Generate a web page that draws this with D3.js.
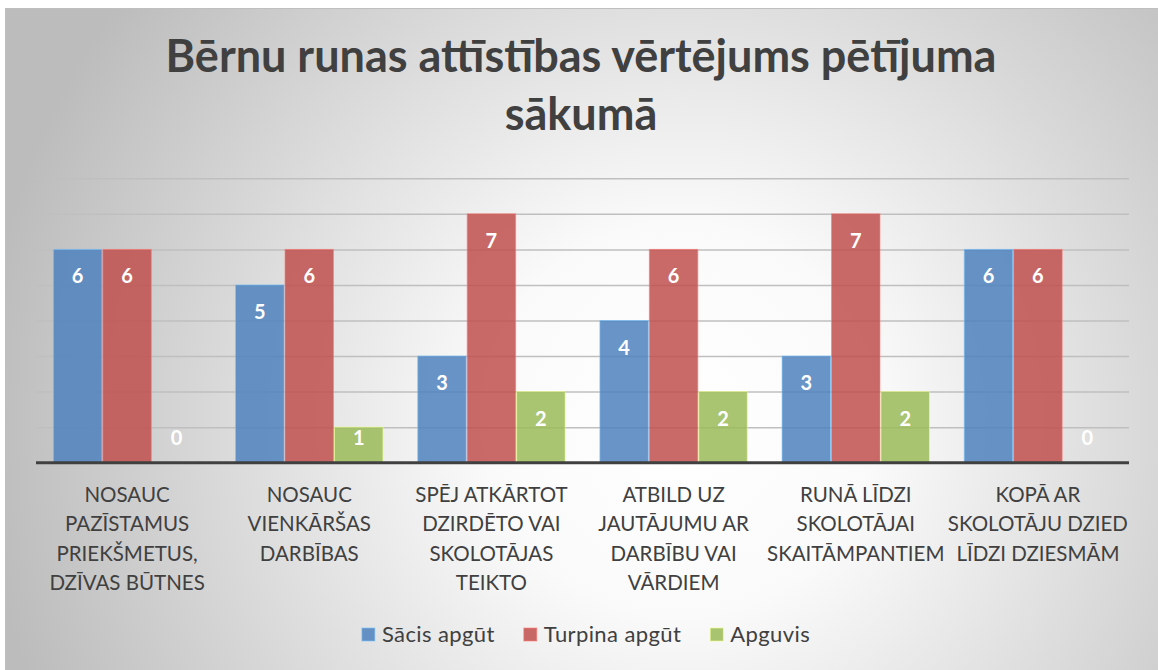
<!DOCTYPE html>
<html><head><meta charset="utf-8">
<script src="https://cdn.jsdelivr.net/npm/d3@7"></script>
<style>body{margin:0;background:#fff}svg{display:block}</style>
</head><body><svg id="c" width="1158" height="670"></svg>
<script>
const categories = [
  ["NOSAUC","PAZĪSTAMUS","PRIEKŠMETUS,","DZĪVAS BŪTNES"],
  ["NOSAUC","VIENKĀRŠAS","DARBĪBAS"],
  ["SPĒJ ATKĀRTOT","DZIRDĒTO VAI","SKOLOTĀJAS","TEIKTO"],
  ["ATBILD UZ","JAUTĀJUMU AR","DARBĪBU VAI","VĀRDIEM"],
  ["RUNĀ LĪDZI","SKOLOTĀJAI","SKAITĀMPANTIEM"],
  ["KOPĀ AR","SKOLOTĀJU DZIED","LĪDZI DZIESMĀM"]
];
const seriesNames = ["Sācis apgūt","Turpina apgūt","Apguvis"];
const sacis   = [6,5,3,4,3,6];
const turpina = [6,6,7,6,7,6];
const apguvis = [0,1,2,2,2,0];
const seriesValues = [sacis, turpina, apguvis];
const colors = ["#4f81bd","#c0504d","#9bbb59"];
const yTicks = [0,1,2,3,4,5,6,7,8];
const titleLines = ["Bērnu runas attīstības vērtējums pētījuma","sākumā"];

const svg = d3.select("#c");
const W = 1158, H = 670;
const font = "Lato, 'Open Sans', sans-serif";

const defs = svg.append("defs");
const rg = defs.append("radialGradient").attr("id","bg")
  .attr("gradientUnits","userSpaceOnUse").attr("cx",680).attr("cy",420).attr("r",700);
rg.append("stop").attr("offset",0).attr("stop-color","#ffffff");
rg.append("stop").attr("offset",0.28).attr("stop-color","#fafafa");
rg.append("stop").attr("offset",1).attr("stop-color","#bcbcbc");

svg.append("rect").attr("x",5.5).attr("y",8.5).attr("width",W).attr("height",H)
  .attr("fill","url(#bg)").attr("stroke","#bfbfbf").attr("stroke-width",1);

// title
svg.append("text").attr("text-anchor","middle").attr("font-family",font)
  .attr("font-weight","bold").attr("font-size",45).attr("fill","#404040")
  .selectAll("tspan").data(titleLines).join("tspan")
  .attr("x",581).attr("y",(d,i)=>72+i*58).text(d=>d);

const pLeft = 36, pRight = 1129, pTop = 178.3, pBottom = 462.7;
const x0 = d3.scaleBand().domain(d3.range(categories.length)).range([pLeft,pRight]).paddingInner(0.18).paddingOuter(0.09);
const x1 = d3.scaleBand().domain(d3.range(seriesNames.length)).range([0,x0.bandwidth()]).padding(0.02);
const y = d3.scaleLinear().domain([0,8]).range([pBottom,pTop]);

// gridlines
const grid = svg.append("g").call(d3.axisLeft(y).tickValues(yTicks.slice(1)).tickSize(-(pRight-pLeft)).tickFormat(""))
  .attr("transform",`translate(${pLeft},0)`);
grid.select(".domain").remove();
grid.selectAll("line").attr("stroke","#bfbfbf").attr("stroke-width",1.5);

// bars
const groups = svg.append("g").selectAll("g").data(categories).join("g")
  .attr("transform",(d,i)=>`translate(${x0(i)},0)`);
groups.selectAll("rect").data((d,i)=>seriesValues.map((s,j)=>({j,v:s[i]}))).join("rect")
  .attr("x",d=>x1(d.j)).attr("width",x1.bandwidth())
  .attr("y",d=>y(d.v)).attr("height",d=>y(0)-y(d.v))
  .attr("fill",d=>colors[d.j]).attr("fill-opacity",0.85)
  .attr("stroke",d=>d3.color(colors[d.j]).brighter(1.2)).attr("stroke-opacity",0.6).attr("stroke-width",1);
groups.selectAll("text").data((d,i)=>seriesValues.map((s,j)=>({j,v:s[i]}))).join("text")
  .attr("x",d=>x1(d.j)+x1.bandwidth()/2)
  .attr("y",d=>Math.min(y(d.v)+27, y(0)-25)+7)
  .attr("text-anchor","middle").attr("font-family",font).attr("font-weight","bold")
  .attr("font-size",20).attr("fill","#ffffff").text(d=>d.v);

// axis
const xAxis = svg.append("g").attr("transform",`translate(0,${pBottom})`)
  .call(d3.axisBottom(x0).tickSize(0).tickFormat(""));
xAxis.select(".domain").attr("stroke","#404040").attr("stroke-width",3).attr("d",`M${pLeft},0H${pRight}`);

// category labels
svg.append("g").selectAll("text").data(categories).join("text")
  .attr("text-anchor","middle").attr("font-family",font).attr("font-size",20.5).attr("fill","#404040")
  .each(function(d,i){
    d3.select(this).selectAll("tspan").data(d).join("tspan")
      .attr("x",x0(i)+x0.bandwidth()/2).attr("y",(t,k)=>502+k*29.3).text(t=>t);
  });

// legend
const lg = svg.append("g");
const items = lg.selectAll("g").data(seriesNames).join("g");
items.append("rect").attr("width",13).attr("height",13).attr("y",-14)
  .attr("fill",(d,i)=>colors[i]).attr("fill-opacity",0.85)
  .attr("stroke",(d,i)=>d3.color(colors[i]).brighter(1.2)).attr("stroke-opacity",0.6);
items.append("text").attr("x",20).attr("font-family",font).attr("font-size",22)
  .attr("letter-spacing",0.4).attr("fill","#404040").text(d=>d);
let lx = 0; const pos=[];
items.each(function(){ pos.push(lx); lx += this.getBBox().width + 29; });
const total = lx - 29;
items.attr("transform",(d,i)=>`translate(${pos[i]},0)`);
lg.attr("transform",`translate(${586-total/2},642)`);
</script></body></html>
